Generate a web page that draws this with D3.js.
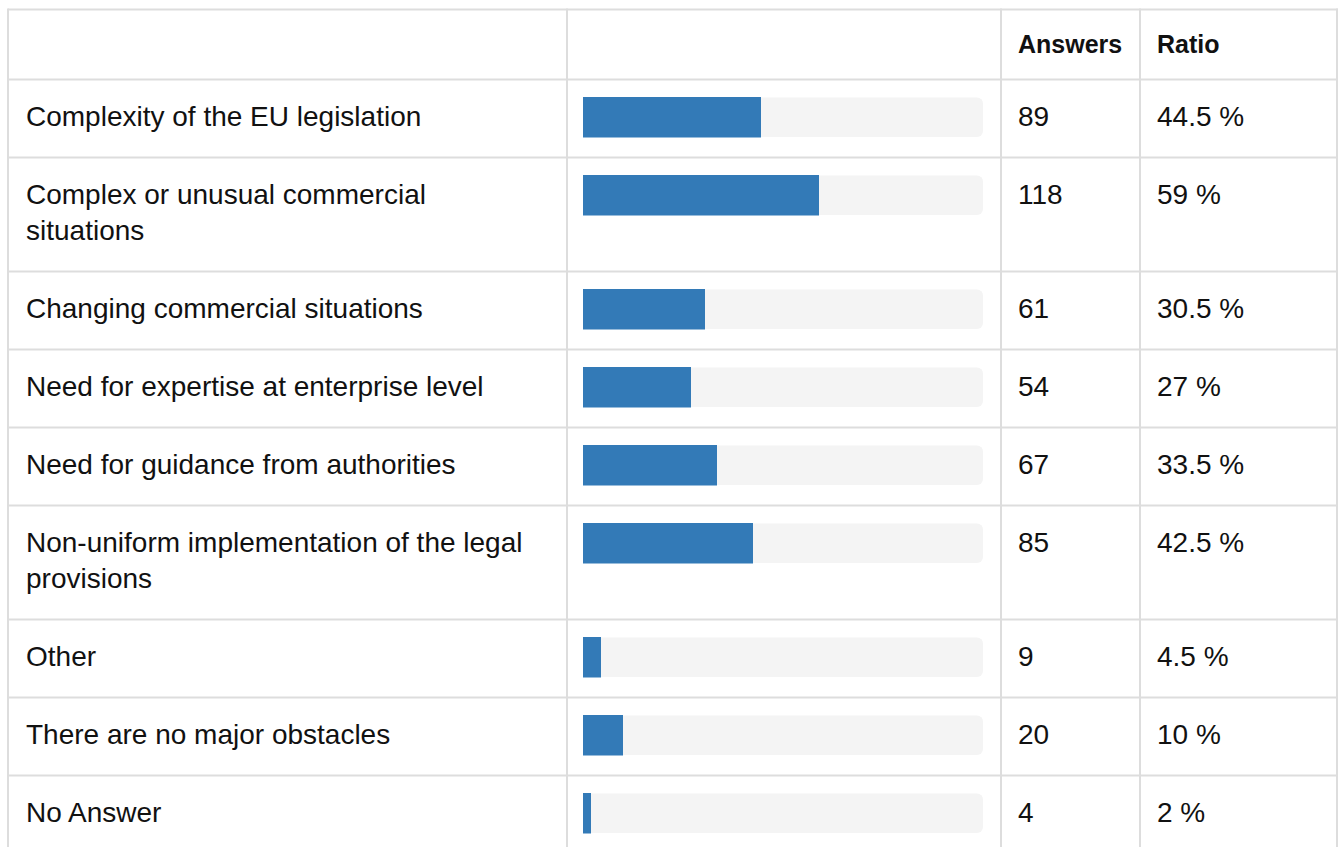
<!DOCTYPE html>
<meta charset="utf-8" />
<html>
<head>
  <script src="https://d3js.org/d3.v7.min.js"></script>
  <style>
    body { margin: 0; background: #fff; }
    text { font-family: "Liberation Sans", Arial, Helvetica, sans-serif; fill: #111; }
  </style>
</head>
<body>
<script type="text/javascript">
// survey answers
var labels = [
  "Complexity of the EU legislation",
  "Complex or unusual commercial situations",
  "Changing commercial situations",
  "Need for expertise at enterprise level",
  "Need for guidance from authorities",
  "Non-uniform implementation of the legal provisions",
  "Other",
  "There are no major obstacles",
  "No Answer"
];
var answers = [89, 118, 61, 54, 67, 85, 9, 20, 4];
var ratios = [44.5, 59, 30.5, 27, 33.5, 42.5, 4.5, 10, 2];
var headers = ["", "", "Answers", "Ratio"];

var width = 1338, height = 847;
var tableLeft = 8, tableTop = 9.5, headerH = 70;
var colEdges = [tableLeft, 567, 1001, 1140, 1337];
var rowH = 78, lineH = 36, pad = 18;
var borderCol = '#dddddd';

var svg = d3.select('body').append('svg')
    .attr('width', width)
    .attr('height', height);

var gRows = svg.append('g');
var gLines = svg.append('g');

// header
svg.append('g').selectAll('text')
    .data(headers)
    .enter()
    .append('text')
    .attr('x', function(d, i) { return colEdges[i] + 17; })
    .attr('y', tableTop + 43)
    .style('font-size', '25px')
    .style('font-weight', 'bold')
    .text(function(d) { return d; });

// wrap the labels to the first column
function wrap(str, maxW) {
  var probe = svg.append('text').style('font-size', '28px');
  var words = str.split(' '), lines = [], cur = '';
  words.forEach(function(w) {
    var test = cur ? cur + ' ' + w : w;
    probe.text(test);
    if (probe.node().getComputedTextLength() > maxW && cur) {
      lines.push(cur);
      cur = w;
    } else {
      cur = test;
    }
  });
  lines.push(cur);
  probe.remove();
  return lines;
}

var rows = labels.map(function(l, i) {
  return { label: l, lines: wrap(l, colEdges[1] - colEdges[0] - 2 * pad), answers: answers[i], ratio: ratios[i] };
});
var yPos = tableTop + headerH;
rows.forEach(function(r) {
  r.y = yPos;
  r.h = rowH + (r.lines.length - 1) * lineH;
  yPos += r.h;
});

var x = d3.scaleLinear()
    .domain([0, 100])
    .range([0, 400]);
var barX = colEdges[1] + 16;

var row = gRows.selectAll('g.row')
    .data(rows)
    .enter()
    .append('g')
    .attr('class', 'row')
    .attr('transform', function(d) { return 'translate(0,' + d.y + ')'; });

row.append('text')
    .attr('x', colEdges[0] + pad)
    .attr('y', 46)
    .style('font-size', '28px')
    .selectAll('tspan')
    .data(function(d) { return d.lines; })
    .enter()
    .append('tspan')
    .attr('x', colEdges[0] + pad)
    .attr('dy', function(d, i) { return i ? lineH : 0; })
    .text(function(d) { return d; });

// track
row.append('rect')
    .attr('x', barX)
    .attr('y', 18)
    .attr('width', x(100))
    .attr('height', 39.5)
    .attr('rx', 6)
    .attr('fill', '#f4f4f4');

row.append('rect')
    .attr('x', barX)
    .attr('y', 17.5)
    .attr('width', function(d) { return x(d.ratio); })
    .attr('height', 40.5)
    .attr('fill', '#337ab7');

row.append('text')
    .attr('x', colEdges[2] + 17)
    .attr('y', 46)
    .style('font-size', '28px')
    .text(function(d) { return d.answers; });

row.append('text')
    .attr('x', colEdges[3] + 17)
    .attr('y', 46)
    .style('font-size', '28px')
    .text(function(d) { return d.ratio + ' %'; });

// grid lines
var hLines = [tableTop, tableTop + headerH].concat(rows.map(function(r) { return r.y + r.h; }));
gLines.selectAll('line.h')
    .data(hLines)
    .enter()
    .append('line')
    .attr('class', 'h')
    .attr('x1', tableLeft)
    .attr('x2', colEdges[4] + 1)
    .attr('y1', function(d) { return d; })
    .attr('y2', function(d) { return d; })
    .attr('stroke', borderCol)
    .attr('stroke-width', 2);

gLines.selectAll('line.v')
    .data(colEdges)
    .enter()
    .append('line')
    .attr('class', 'v')
    .attr('x1', function(d) { return d; })
    .attr('x2', function(d) { return d; })
    .attr('y1', tableTop - 1)
    .attr('y2', yPos)
    .attr('stroke', borderCol)
    .attr('stroke-width', 2);
</script>
</body>
</html>
